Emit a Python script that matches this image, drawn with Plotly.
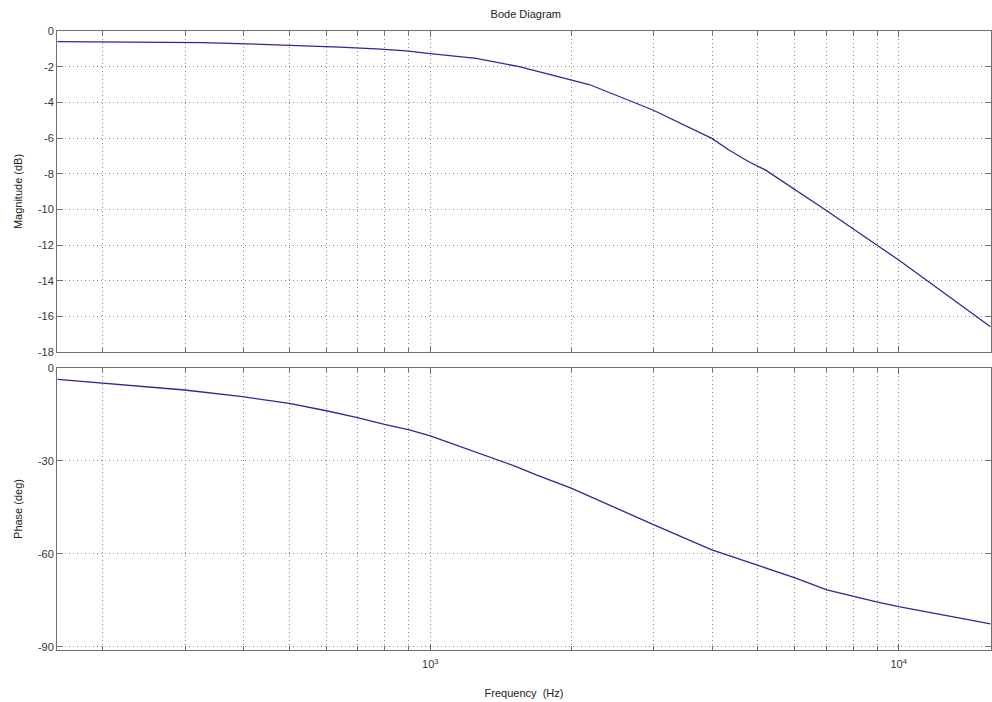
import plotly.graph_objects as go
from plotly.subplots import make_subplots

# Magnitude data
mag_freq = [160, 327, 438, 552, 640, 767, 889, 1000, 1253, 1548, 2009, 2183,
            2987, 3990, 4341, 4786, 5199, 6982, 8975, 10000, 15700]
mag_db = [-0.6, -0.65, -0.75, -0.82, -0.9, -1.0, -1.12, -1.27, -1.53, -2.0, -2.75, -3.0,
          -4.43, -6.02, -6.67, -7.33, -7.8, -10.04, -12.0, -12.84, -16.58]

# Phase data
ph_freq = [160, 200, 299, 397, 500, 600, 695, 798, 902, 1000, 1403, 1525, 1683, 1998,
           3003, 3990, 5029, 6026, 7022, 8017, 9060, 10000, 15700]
ph_deg = [-3.65, -4.9, -7.1, -9.25, -11.4, -13.8, -15.9, -18.2, -20.0, -21.9, -30.0, -31.8,
          -34.5, -38.8, -50.6, -58.7, -63.8, -67.8, -71.6, -73.8, -75.6, -77.0, -82.6]

x_major_vals = [1000, 10000]
x_major_text = ["10<sup>3</sup>", "10<sup>4</sup>"]
x_minor_vals = [200, 300, 400, 500, 600, 700, 800, 900,
                2000, 3000, 4000, 5000, 6000, 7000, 8000, 9000]

mag_ticks = [0, -2, -4, -6, -8, -10, -12, -14, -16, -18]
mag_tick_text = ["0", "-2", "-4", "-6", "-8", "-10", "-12", "-14", "-16", "-18"]
ph_ticks = [0, -30, -60, -90]
ph_tick_text = ["0", "-30", "-60", "-90"]

line_color = "#2a2a94"
grid_color = "#8c8c8c"
axis_color = "#6e6e6e"
font_family = "Liberation Sans, Arial, sans-serif"
grid_dash = "1px,3px"

fig = make_subplots(rows=2, cols=1, shared_xaxes=False, vertical_spacing=0.0)

fig.add_trace(go.Scatter(x=mag_freq, y=mag_db, mode="lines",
                         line=dict(color=line_color, width=1.3), showlegend=False), row=1, col=1)
fig.add_trace(go.Scatter(x=ph_freq, y=ph_deg, mode="lines",
                         line=dict(color=line_color, width=1.3), showlegend=False), row=2, col=1)

xcommon = dict(type="log", range=[2.203, 4.197], showgrid=True, gridcolor=grid_color,
               griddash=grid_dash, gridwidth=1, showline=True, linecolor=axis_color, linewidth=1,
               mirror="ticks", ticks="inside", ticklen=6, tickcolor=axis_color,
               tickvals=x_major_vals, ticktext=x_major_text, zeroline=False, automargin=False,
               minor=dict(tickvals=x_minor_vals, ticks="inside", ticklen=4, tickcolor=axis_color,
                          showgrid=True, gridcolor=grid_color, griddash=grid_dash, gridwidth=1),
               tickfont=dict(family=font_family, size=11, color="#333333"))

fig.update_xaxes(**xcommon, showticklabels=False, row=1, col=1)
fig.update_xaxes(**xcommon, showticklabels=True, ticklabelstandoff=4,
                 title=dict(text="Frequency  (Hz)", standoff=20,
                            font=dict(family=font_family, size=11, color="#222222")),
                 row=2, col=1)

ycommon = dict(showgrid=True, gridcolor=grid_color, griddash=grid_dash, gridwidth=1,
               showline=True, linecolor=axis_color, linewidth=1, mirror="ticks",
               ticks="inside", ticklen=6, tickcolor=axis_color, zeroline=False, automargin=False,
               tickfont=dict(family=font_family, size=11, color="#333333"))

fig.update_yaxes(**ycommon, range=[-18, 0], tickvals=mag_ticks, ticktext=mag_tick_text,
                 title=dict(text="Magnitude (dB)", standoff=13,
                            font=dict(family=font_family, size=11, color="#222222")),
                 row=1, col=1)
fig.update_yaxes(**ycommon, range=[-91, 0], tickvals=ph_ticks, ticktext=ph_tick_text,
                 title=dict(text="Phase (deg)", standoff=13,
                            font=dict(family=font_family, size=11, color="#222222")),
                 row=2, col=1)

fig.update_layout(
    width=992, height=702,
    margin=dict(l=57, r=1, t=31, b=52),
    paper_bgcolor="white", plot_bgcolor="white",
    title=dict(text="Bode Diagram", x=0.53, xanchor="center", y=0.985, yanchor="top",
               font=dict(family=font_family, size=11, color="#222222")),
    xaxis=dict(domain=[0, 1]), xaxis2=dict(domain=[0, 1]),
    yaxis=dict(domain=[0.4814, 1.0]), yaxis2=dict(domain=[0.0, 0.4556]),
)

fig.write_html("out.html", config={"displayModeBar": False},
               post_script="document.body.style.margin='0';document.body.style.overflow='hidden';")
